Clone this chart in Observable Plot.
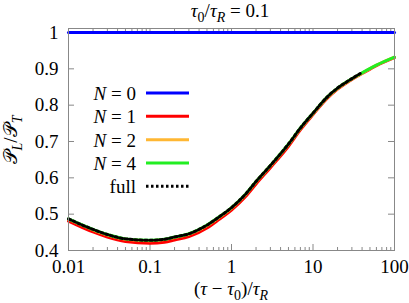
<!DOCTYPE html>
<html><head><meta charset="utf-8">
<script src="https://cdn.jsdelivr.net/npm/d3@7"></script>
<script src="https://cdn.jsdelivr.net/npm/@observablehq/plot@0.6"></script>
<style>body{margin:0;background:#fff}</style>
</head><body><div id="chart"></div><script>
// ---- data ----
const tauAxis = [0.01, 0.02, 0.03, 0.05, 0.1, 0.15, 0.2, 0.3, 0.5, 0.7, 1, 1.5, 2, 3, 5, 7, 10, 15, 20, 30, 40, 60, 100];
const n0Values = [1, 1, 1, 1, 1, 1, 1, 1, 1, 1, 1, 1, 1, 1, 1, 1, 1, 1, 1, 1, 1, 1, 1];
const n1Values = [0.481, 0.451, 0.437, 0.425, 0.420, 0.423, 0.429, 0.438, 0.462, 0.485, 0.511, 0.549, 0.583, 0.628, 0.687, 0.732, 0.774, 0.819, 0.844, 0.871, 0.887, 0.909, 0.931];
const n2Values = [0.486, 0.457, 0.443, 0.431, 0.427, 0.430, 0.436, 0.445, 0.469, 0.491, 0.517, 0.555, 0.589, 0.633, 0.692, 0.736, 0.777, 0.822, 0.846, 0.872, 0.888, 0.910, 0.932];
const n4Values = [0.487, 0.458, 0.444, 0.432, 0.428, 0.431, 0.437, 0.446, 0.470, 0.492, 0.518, 0.556, 0.590, 0.634, 0.693, 0.737, 0.778, 0.823, 0.847, 0.873, 0.889, 0.910, 0.932];
const fullTau = [0.01, 0.02, 0.03, 0.05, 0.1, 0.15, 0.2, 0.3, 0.5, 0.7, 1, 1.5, 2, 3, 5, 7, 10, 15, 20, 30, 38];
const fullValues = [0.487, 0.458, 0.444, 0.432, 0.428, 0.431, 0.437, 0.446, 0.470, 0.492, 0.518, 0.556, 0.590, 0.634, 0.693, 0.737, 0.778, 0.823, 0.847, 0.873, 0.887];

const xTicks = [0.01, 0.1, 1, 10, 100];
const xTickLabels = ["0.01", "0.1", "1", "10", "100"];
const yTicks = [0.4, 0.5, 0.6, 0.7, 0.8, 0.9, 1];
const yTickLabels = ["0.4", "0.5", "0.6", "0.7", "0.8", "0.9", "1"];
const minorX = [];
for (const d of [0.01, 0.1, 1, 10]) for (let k = 2; k <= 9; k++) minorX.push(+(d * k).toPrecision(3));

const seriesNames = ["N = 0", "N = 1", "N = 2", "N = 4", "full"];
const seriesColors = ["#0000ff", "#ff0000", "#ffb733", "#22ee22", "#000000"];

const rows = (xs, ys) => xs.map((t, i) => ({t, v: ys[i]}));

// ---- layout ----
const W = 409, H = 303, mL = 68, mR = 15, mT = 28, mB = 53;
const innerW = W - mL - mR, innerH = H - mT - mB;
const grey = "#888";
const FONT = "Liberation Serif";
const FS = 19;
const xLab = new Map(xTicks.map((d, i) => [d, xTickLabels[i]]));
const yLab = new Map(yTicks.map((d, i) => [d, yTickLabels[i]]));

const plot = Plot.plot({
  width: W, height: H,
  marginLeft: mL, marginRight: mR, marginTop: mT, marginBottom: mB,
  style: {fontFamily: FONT, fontSize: FS + "px", background: "#fff", color: "#000"},
  x: {type: "log", domain: [0.01, 100]},
  y: {domain: [0.4, 1.011]},
  marks: [
    Plot.tickX(minorX, {x: d => d, stroke: grey, insetTop: innerH - 3}),
    Plot.tickX(minorX, {x: d => d, stroke: grey, insetBottom: innerH - 3}),
    Plot.tickX(xTicks, {x: d => d, stroke: grey, insetTop: innerH - 6}),
    Plot.tickX(xTicks, {x: d => d, stroke: grey, insetBottom: innerH - 6}),
    Plot.tickY(yTicks, {y: d => d, stroke: grey, insetRight: innerW - 6}),
    Plot.tickY(yTicks, {y: d => d, stroke: grey, insetLeft: innerW - 6}),
    Plot.axisX(xTicks, {tickSize: 0, tickPadding: 9, tickFormat: d => xLab.get(d), fontSize: FS, fontFamily: FONT, label: null}),
    Plot.axisY(yTicks, {tickSize: 0, tickPadding: 10, tickFormat: d => yLab.get(d), fontSize: FS, fontFamily: FONT, label: null}),
    Plot.line(rows(tauAxis, n0Values), {x: "t", y: "v", stroke: seriesColors[0], strokeWidth: 3}),
    Plot.line(rows(tauAxis, n1Values), {x: "t", y: "v", stroke: seriesColors[1], strokeWidth: 3, curve: "monotone-x"}),
    Plot.line(rows(tauAxis, n2Values), {x: "t", y: "v", stroke: seriesColors[2], strokeWidth: 3, curve: "monotone-x"}),
    Plot.line(rows(tauAxis, n4Values), {x: "t", y: "v", stroke: seriesColors[3], strokeWidth: 3, curve: "monotone-x"}),
    Plot.line(rows(fullTau, fullValues), {x: "t", y: "v", stroke: seriesColors[4], strokeWidth: 3, strokeDasharray: "2.5,2.5", curve: "monotone-x"}),
    Plot.frame({stroke: grey, strokeWidth: 1})
  ]
});
document.getElementById("chart").appendChild(plot);

// ---- math-like text helper ----
const svg = d3.select(plot);
function mathText(g, parts, attrs) {
  const t = g.append("text").attr("font-size", FS).attr("fill", "#000");
  for (const [k, v] of Object.entries(attrs)) t.attr(k, v);
  let shift = 0;
  for (const p of parts) {
    const s = t.append("tspan").text(p.t);
    if (p.it) s.attr("font-style", "italic");
    const target = p.sub ? 5 : 0;
    if (target !== shift) { s.attr("dy", target - shift); shift = target; }
    if (p.sub) s.attr("font-size", 14);
  }
  return t;
}
const g = svg.append("g");
mathText(g, [{t: "τ", it: true}, {t: "0", sub: true}, {t: "/"}, {t: "τ", it: true}, {t: "R", it: true, sub: true}, {t: " = 0.1"}],
  {x: 230, y: 17, "text-anchor": "middle"});
mathText(g, [{t: "("}, {t: "τ", it: true}, {t: " − "}, {t: "τ", it: true}, {t: "0", sub: true}, {t: ")/"}, {t: "τ", it: true}, {t: "R", it: true, sub: true}],
  {x: 231, y: 295, "text-anchor": "middle"});
mathText(g, [{t: "𝒫"}, {t: "L", it: true, sub: true}, {t: "/"}, {t: "𝒫"}, {t: "T", it: true, sub: true}],
  {transform: "translate(17,140) rotate(-90)", "text-anchor": "middle"});

// ---- legend ----
const legY = [93, 116.3, 139.7, 163, 186.3];
seriesNames.forEach((name, i) => {
  const parts = name === "full" ? [{t: "full"}] : [{t: "N", it: true}, {t: name.slice(1)}];
  mathText(g, parts, {x: 136, y: legY[i] + 7, "text-anchor": "end"});
  const l = g.append("line").attr("x1", 146).attr("x2", 189).attr("y1", legY[i]).attr("y2", legY[i])
    .attr("stroke", seriesColors[i]).attr("stroke-width", 3);
  if (name === "full") l.attr("stroke-dasharray", "2.5,2.5");
});

// force the serif face on every text element with inline !important styles
plot.style.setProperty("font-family", FONT, "important");
plot.querySelectorAll("text").forEach(el => el.style.setProperty("font-family", FONT, "important"));
</script></body></html>
